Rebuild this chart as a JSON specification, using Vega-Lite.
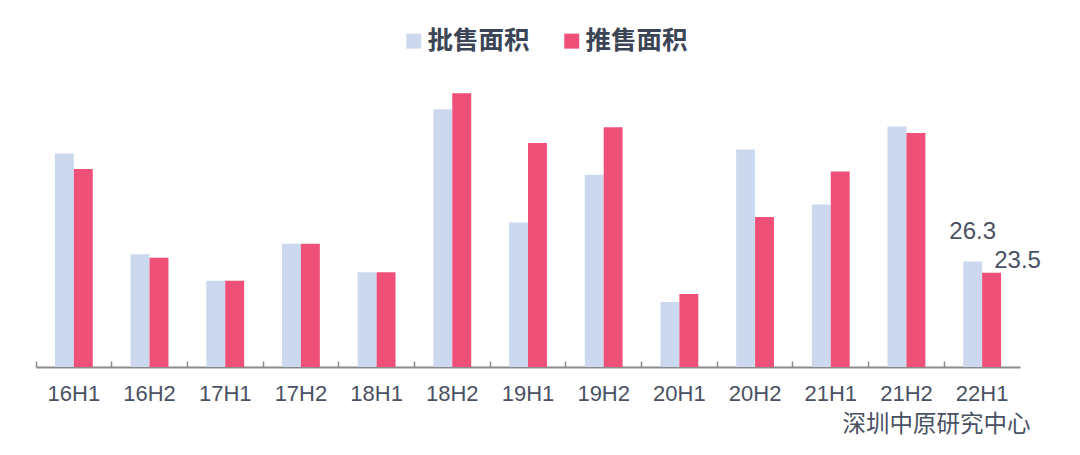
{
  "$schema": "https://vega.github.io/schema/vega-lite/v6.json",
  "width": 984,
  "height": 289,
  "autosize": {"type": "none"},
  "padding": {"left": 36, "top": 78, "right": 60, "bottom": 88},
  "background": "white",
  "config": {
    "view": {"stroke": null},
    "font": "Liberation Sans, Noto Sans CJK SC"
  },
  "data": {
    "values": [
      {"period": "16H1", "series": "批售面积", "value": 53.2},
      {"period": "16H1", "series": "推售面积", "value": 49.3},
      {"period": "16H2", "series": "批售面积", "value": 28.1},
      {"period": "16H2", "series": "推售面积", "value": 27.2},
      {"period": "17H1", "series": "批售面积", "value": 21.5},
      {"period": "17H1", "series": "推售面积", "value": 21.5},
      {"period": "17H2", "series": "批售面积", "value": 30.7},
      {"period": "17H2", "series": "推售面积", "value": 30.7},
      {"period": "18H1", "series": "批售面积", "value": 23.6},
      {"period": "18H1", "series": "推售面积", "value": 23.6},
      {"period": "18H2", "series": "批售面积", "value": 64.2},
      {"period": "18H2", "series": "推售面积", "value": 68.2},
      {"period": "19H1", "series": "批售面积", "value": 36.0},
      {"period": "19H1", "series": "推售面积", "value": 55.8},
      {"period": "19H2", "series": "批售面积", "value": 47.9},
      {"period": "19H2", "series": "推售面积", "value": 59.7},
      {"period": "20H1", "series": "批售面积", "value": 16.2},
      {"period": "20H1", "series": "推售面积", "value": 18.2},
      {"period": "20H2", "series": "批售面积", "value": 54.2},
      {"period": "20H2", "series": "推售面积", "value": 37.4},
      {"period": "21H1", "series": "批售面积", "value": 40.5},
      {"period": "21H1", "series": "推售面积", "value": 48.7},
      {"period": "21H2", "series": "批售面积", "value": 59.9},
      {"period": "21H2", "series": "推售面积", "value": 58.3},
      {"period": "22H1", "series": "批售面积", "value": 26.3},
      {"period": "22H1", "series": "推售面积", "value": 23.5}
    ]
  },
  "encoding": {
    "x": {
      "field": "period",
      "type": "nominal",
      "sort": null,
      "scale": {"paddingInner": 0, "paddingOuter": 0},
      "axis": {
        "title": "深圳中原研究中心",
        "titleFontSize": 23.5,
        "titleFontWeight": "normal",
        "titleColor": "#4a5163",
        "titleAnchor": "end",
        "titleAlign": "right",
        "titleBaseline": "alphabetic",
        "titleX": 994,
        "titleY": 64,
        "labelAngle": 0,
        "labelFontSize": 22,
        "labelColor": "#4a5163",
        "labelPadding": 22,
        "bandPosition": 0,
        "tickSize": -6,
        "tickColor": "#8a8a8a",
        "tickWidth": 1.5,
        "domainColor": "#8a8a8a",
        "domainWidth": 2,
        "grid": false
      }
    },
    "xOffset": {
      "field": "series",
      "type": "nominal",
      "sort": ["批售面积", "推售面积"],
      "scale": {"paddingInner": 0, "paddingOuter": 1.126}
    },
    "y": {
      "field": "value",
      "type": "quantitative",
      "scale": {"domain": [0, 72], "nice": false, "zero": true},
      "axis": null
    }
  },
  "layer": [
    {
      "mark": {"type": "bar"},
      "encoding": {
        "color": {
          "field": "series",
          "type": "nominal",
          "scale": {"domain": ["批售面积", "推售面积"], "range": ["#cbd8ee", "#ef5078"]},
          "legend": {
            "title": null,
            "orient": "none",
            "direction": "horizontal",
            "legendX": 365,
            "legendY": -50,
            "padding": 0,
            "symbolType": "square",
            "symbolSize": 225,
            "symbolStrokeWidth": 0,
            "labelFontSize": 25.5,
            "labelFontWeight": "bold",
            "labelColor": "#3b4556",
            "labelOffset": 1,
            "columnPadding": 29
          }
        }
      }
    },
    {
      "transform": [{"filter": "datum.period === '22H1' && datum.series === '批售面积'"}],
      "mark": {"type": "text", "fontSize": 24, "color": "#4a5163", "align": "center", "baseline": "alphabetic", "dy": -22},
      "encoding": {"text": {"field": "value", "type": "quantitative", "format": ".1f"}}
    },
    {
      "transform": [{"filter": "datum.period === '22H1' && datum.series === '推售面积'"}],
      "mark": {"type": "text", "fontSize": 24, "color": "#4a5163", "align": "center", "baseline": "alphabetic", "dx": 26, "dy": -5},
      "encoding": {"text": {"field": "value", "type": "quantitative", "format": ".1f"}}
    }
  ]
}
